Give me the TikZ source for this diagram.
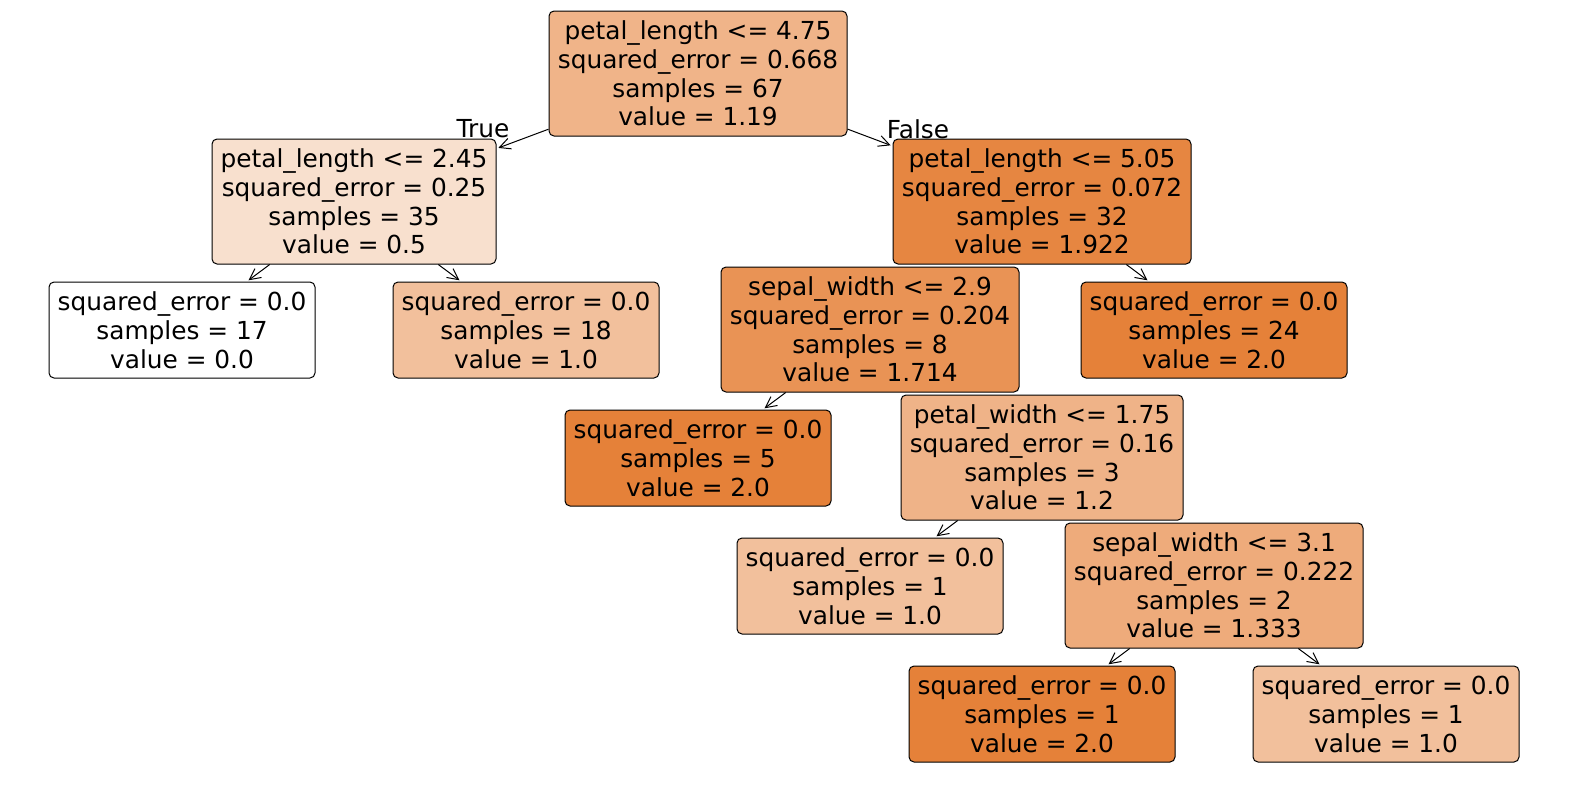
\documentclass[tikz,border=0pt]{standalone}
\usepackage{fontspec}
\setmainfont{DejaVu Sans}
\usetikzlibrary{arrows.meta}
\definecolor{vA}{RGB}{240,180,137}
\definecolor{vB}{RGB}{248,224,206}
\definecolor{vC}{RGB}{230,134,65}
\definecolor{vD}{RGB}{242,192,156}
\definecolor{vE}{RGB}{233,147,85}
\definecolor{vF}{RGB}{229,129,57}
\definecolor{vG}{RGB}{239,179,136}
\definecolor{vH}{RGB}{238,171,123}
\begin{document}
\begin{tikzpicture}[x=1pt,y=-1pt,
  box/.style={draw=black, line width=1pt, rounded corners=5pt, align=center, inner sep=0pt,
    font=\fontsize{24.8}{28.8}\selectfont},
  fourline/.style={box, minimum height=125pt},
  threeline/.style={box, minimum height=96pt},
  conn/.style={-{Straight Barb[length=11pt,width=11pt]}, line width=1pt, shorten >=2pt},
  lbl/.style={inner sep=0pt, font=\fontsize{24.8}{28.8}\selectfont}]
\useasboundingbox (0,0) rectangle (1570,790);

\node[fourline, fill=vA, minimum width=298pt] (root) at (698,73.5)
  {petal\_length <= 4.75\\squared\_error = 0.668\\samples = 67\\value = 1.19};
\node[fourline, fill=vB, minimum width=284pt] (l1) at (354,201.5)
  {petal\_length <= 2.45\\squared\_error = 0.25\\samples = 35\\value = 0.5};
\node[fourline, fill=vC, minimum width=298pt] (r1) at (1042,201.5)
  {petal\_length <= 5.05\\squared\_error = 0.072\\samples = 32\\value = 1.922};
\node[threeline, fill=white, minimum width=266pt] (leafa) at (182,330)
  {squared\_error = 0.0\\samples = 17\\value = 0.0};
\node[threeline, fill=vD, minimum width=266pt] (leafb) at (526,330)
  {squared\_error = 0.0\\samples = 18\\value = 1.0};
\node[fourline, fill=vE, minimum width=298pt] (sw29) at (870,329.5)
  {sepal\_width <= 2.9\\squared\_error = 0.204\\samples = 8\\value = 1.714};
\node[threeline, fill=vF, minimum width=266pt] (leafc) at (1214,330)
  {squared\_error = 0.0\\samples = 24\\value = 2.0};
\node[threeline, fill=vF, minimum width=266pt] (leafd) at (698,458)
  {squared\_error = 0.0\\samples = 5\\value = 2.0};
\node[fourline, fill=vG, minimum width=282pt] (pw) at (1042,457.5)
  {petal\_width <= 1.75\\squared\_error = 0.16\\samples = 3\\value = 1.2};
\node[threeline, fill=vD, minimum width=266pt] (leafe) at (870,586)
  {squared\_error = 0.0\\samples = 1\\value = 1.0};
\node[fourline, fill=vH, minimum width=298pt] (sw31) at (1214,585.5)
  {sepal\_width <= 3.1\\squared\_error = 0.222\\samples = 2\\value = 1.333};
\node[threeline, fill=vF, minimum width=266pt] (leaff) at (1042,714)
  {squared\_error = 0.0\\samples = 1\\value = 2.0};
\node[threeline, fill=vD, minimum width=266pt] (leafg) at (1386,714)
  {squared\_error = 0.0\\samples = 1\\value = 1.0};

\node[lbl] (true) at (483,129) {True};
\node[lbl] (false) at (918,129) {False};

\draw[conn] (root) -- (l1);
\draw[conn] (root) -- (r1);
\draw[conn] (l1) -- (leafa);
\draw[conn] (l1) -- (leafb);
\draw[conn] (r1) -- (leafc);
\draw[conn] (sw29) -- (leafd);
\draw[conn] (pw) -- (leafe);
\draw[conn] (sw31) -- (leaff);
\draw[conn] (sw31) -- (leafg);
\end{tikzpicture}
\end{document}
